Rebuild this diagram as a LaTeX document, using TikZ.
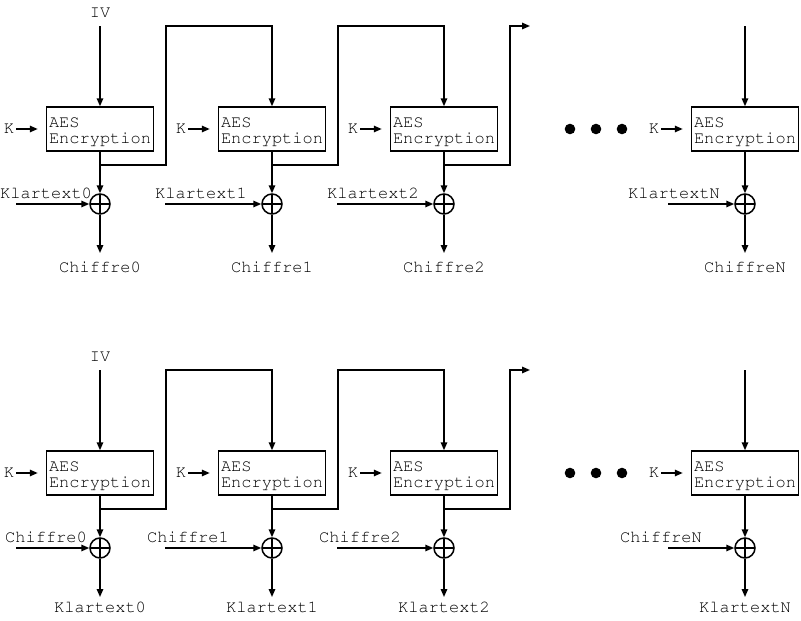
\documentclass[tikz,border=0pt]{standalone}
\usepackage[T1]{fontenc}
\usepackage{courier}
\usetikzlibrary{arrows.meta}
\newcommand{\ttlabel}{\fontsize{17}{16.3}\selectfont\ttfamily}
\tikzset{
    wire/.style={line width=1.5pt},
    arr/.style={wire, -{Triangle[length=8pt,width=6.5pt]}},
    aesbox/.style={draw, line width=1.5pt, minimum width=107pt, minimum height=44pt, align=left, inner sep=2pt, font=\ttlabel},
    xorgate/.style={draw, circle, line width=1.5pt, minimum size=20pt, inner sep=0pt,
        path picture={\draw[line width=1.5pt] (path picture bounding box.north) -- (path picture bounding box.south)
            (path picture bounding box.west) -- (path picture bounding box.east);}},
    lbl/.style={inner sep=2pt, font=\ttlabel}
}
\begin{document}
\begin{tikzpicture}[x=1pt, y=-1pt]
    \useasboundingbox (0,0) rectangle (801,621);
    \foreach \h/\dy/\inp/\outp/\lx/\oy in {t/0/Klartext/Chiffre/71/267, b/344/Chiffre/Klartext/84/263} {
        \begin{scope}[yshift=-\dy pt]
            \node[lbl] (iv\h) at (100,13) {IV};
            \foreach \i/\x in {0/100, 1/272, 2/444, N/745} {
                \node[aesbox] (box\h\i) at (\x,129) {\rule{0pt}{15.7pt}AES\\Encryption};
                \node[lbl] (k\h\i) at (\x-91,129) {K};
                \node[xorgate] (xor\h\i) at (\x,204) {};
                \node[lbl] (in\h\i) at ({max(46,\x-\lx)},193) {\inp\i};
                \node[lbl] (out\h\i) at (\x,\oy) {\outp\i};
                \coordinate (tap\h\i) at (\x,165);
                \coordinate (up\h\i) at (\x+66,26);
                \coordinate (end\h\i) at (\x,253);
                \draw[arr, shorten >=8pt] (k\h\i) -- (box\h\i);
                \draw[arr] (box\h\i.south) -- (xor\h\i.north);
                \draw[arr] (xor\h\i.south) -- (end\h\i);
            }
            \coordinate (src\h0) at (16,204);
            \coordinate (src\h1) at (165,204);
            \coordinate (src\h2) at (337,204);
            \coordinate (src\h N) at (668,204);
            \foreach \i in {0,1,2,N}
                \draw[arr] (src\h\i) -- (xor\h\i.west);
            \coordinate (nxt\h) at (530,26);
            \coordinate (feed\h) at (745,26);
            \draw[arr, shorten <=6pt] (iv\h.south) -- (box\h0.north);
            \draw[arr] (tap\h0) -| (up\h0) -| (box\h1.north);
            \draw[arr] (tap\h1) -| (up\h1) -| (box\h2.north);
            \draw[arr] (tap\h2) -| (up\h2) -- (nxt\h);
            \draw[arr] (feed\h) -- (box\h N.north);
            \foreach \d in {570,596,622}
                \fill (\d,129) circle (5.3pt);
        \end{scope}
    }
\end{tikzpicture}
\end{document}
